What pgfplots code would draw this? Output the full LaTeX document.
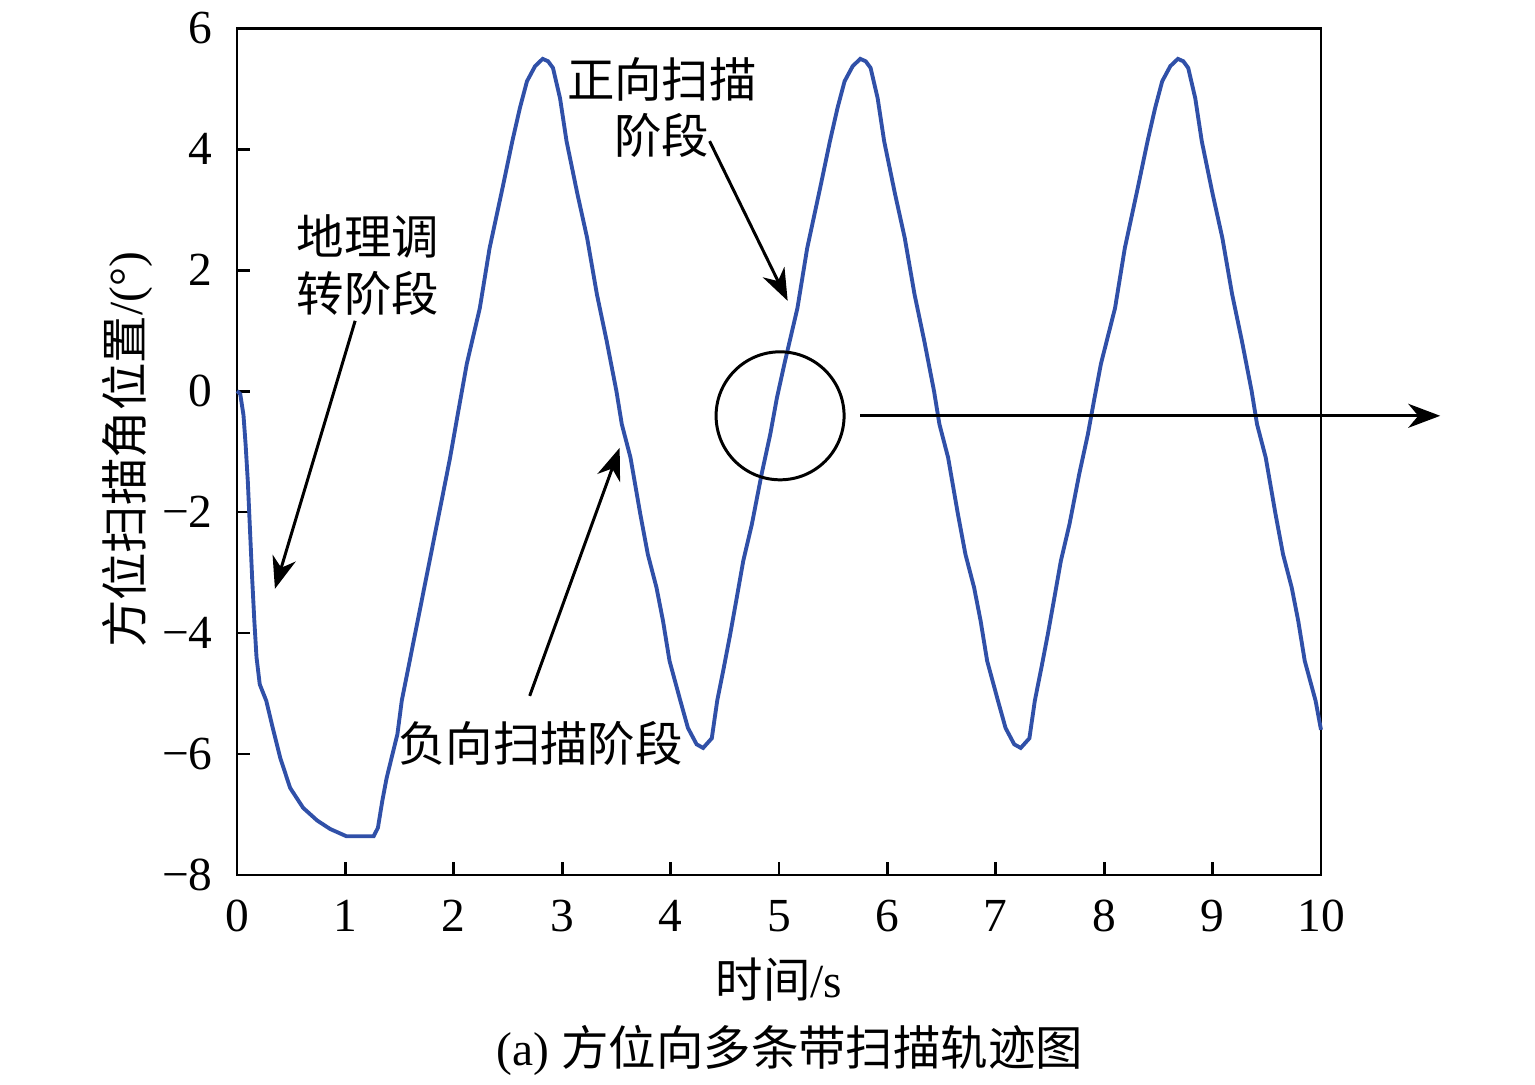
\documentclass[border=0pt]{standalone}
\usepackage{fontspec}
\setmainfont{Liberation Serif}
\newfontfamily\cjk{Noto Sans CJK SC}
\usepackage{pgfplots}
\pgfplotsset{compat=1.18}
\usetikzlibrary{arrows.meta}

\definecolor{trace}{RGB}{48,80,168}
\newcommand{\fs}{\fontsize{13.5}{16}\selectfont}

\begin{document}
\begin{tikzpicture}
\useasboundingbox (-2.37,-2.10) rectangle (12.98,8.75);
\begin{axis}[
  at={(0,0)}, anchor=south west,
  scale only axis,
  width=10.84cm, height=8.47cm,
  xmin=0, xmax=10, ymin=-8, ymax=6,
  xtick={0,1,...,10},
  ytick={-8,-6,-4,-2,0,2,4,6},
  yticklabels={−8,−6,−4,−2,0,2,4,6},
  tick align=inside,
  xtick pos=bottom, ytick pos=left,
  major tick length=1.3mm,
  tick style={line width=0.85pt, black},
  axis line style={line width=0.85pt, black},
  ticklabel style={font=\fs},
  /pgf/number format/assume math mode=true,
  xticklabel style={yshift=-1.3mm},
  yticklabel style={xshift=-1.2mm},
  clip=false,
]
\addplot[trace, line width=1.1pt] coordinates {
(0,0) (0.03,-0.05) (0.06,-0.4) (0.08,-0.9) (0.10,-1.5) (0.12,-2.3) (0.14,-3.1)
(0.16,-3.8) (0.18,-4.4) (0.21,-4.85) (0.27,-5.12) (0.33,-5.57) (0.40,-6.07)
(0.49,-6.56) (0.61,-6.89) (0.74,-7.10) (0.86,-7.24) (1.01,-7.36) (1.26,-7.36)
(1.30,-7.22) (1.34,-6.78) (1.38,-6.40) (1.48,-5.67) (1.52,-5.12) (1.60,-4.40)
(1.70,-3.50) (1.80,-2.60) (1.90,-1.70) (1.965,-1.11) (2.04,-0.35) (2.12,0.45)
(2.24,1.37) (2.33,2.36) (2.45,3.36) (2.54,4.13) (2.61,4.68) (2.675,5.12)
(2.75,5.37) (2.82,5.49) (2.87,5.45) (2.915,5.34) (2.98,4.84) (3.04,4.13)
(3.14,3.26) (3.23,2.53) (3.32,1.60) (3.41,0.83) (3.50,0) (3.55,-0.55)
(3.63,-1.10) (3.72,-2.03) (3.79,-2.70) (3.87,-3.25) (3.93,-3.80) (3.99,-4.46)
(4.09,-5.12) (4.16,-5.57) (4.24,-5.84) (4.30,-5.90) (4.38,-5.74) (4.43,-5.12)
(4.49,-4.58) (4.55,-4.02) (4.61,-3.42) (4.67,-2.81) (4.75,-2.20) (4.84,-1.37)
(4.92,-0.71) (4.98,-0.12) (5.05,0.45) (5.17,1.37) (5.26,2.36) (5.38,3.36)
(5.47,4.13) (5.54,4.68) (5.605,5.12) (5.68,5.37) (5.75,5.49) (5.80,5.45)
(5.845,5.34) (5.91,4.84) (5.97,4.13) (6.07,3.26) (6.16,2.53) (6.25,1.60)
(6.34,0.83) (6.43,0) (6.48,-0.55) (6.56,-1.10) (6.65,-2.03) (6.72,-2.70)
(6.80,-3.25) (6.86,-3.80) (6.92,-4.46) (7.02,-5.12) (7.09,-5.57) (7.17,-5.84)
(7.23,-5.90) (7.31,-5.74) (7.36,-5.12) (7.42,-4.58) (7.48,-4.02) (7.54,-3.42)
(7.60,-2.81) (7.68,-2.20) (7.77,-1.37) (7.85,-0.71) (7.91,-0.12) (7.97,0.45)
(8.10,1.37) (8.19,2.36) (8.31,3.36) (8.40,4.13) (8.47,4.68) (8.535,5.12)
(8.61,5.37) (8.68,5.49) (8.73,5.45) (8.775,5.34) (8.84,4.84) (8.90,4.13)
(9.00,3.26) (9.09,2.53) (9.18,1.60) (9.27,0.83) (9.36,0) (9.41,-0.55)
(9.49,-1.10) (9.58,-2.03) (9.65,-2.70) (9.73,-3.25) (9.79,-3.80) (9.85,-4.46)
(9.95,-5.12) (10,-5.60)
};

% annotations
\begin{scope}[line width=0.85pt, -{Stealth[length=3.2mm, width=2.4mm, inset=1mm]}]
\draw (axis cs:1.09,1.16) -- (axis cs:0.35,-3.27);
\draw (axis cs:2.70,-5.04) -- (axis cs:3.53,-0.94);
\draw (axis cs:4.36,4.13) -- (axis cs:5.08,1.49);
\draw (axis cs:5.75,-0.41) -- (axis cs:11.1,-0.41);
\end{scope}
\draw[line width=0.85pt] (axis cs:5.01,-0.41) circle[radius=6.4mm];

\node[font=\fs\cjk, align=center, inner sep=0pt] at (axis cs:1.21,2.08)
  {地理调\\转阶段};
\node[font=\fs\cjk, align=center, inner sep=0pt] at (axis cs:3.92,4.69)
  {正向扫描\\阶段};
\node[font=\fs\cjk, inner sep=0pt] at (axis cs:2.80,-5.82) {负向扫描阶段};
\end{axis}

\node[font=\fs, inner sep=0pt] at (5.42,-1.05) {{\cjk 时间}/s};
\node[font=\fs, inner sep=0pt] at (5.53,-1.75) {(a) {\cjk 方位向多条带扫描轨迹图}};
\node[font=\fs, inner sep=0pt, rotate=90] at (-1.10,4.25) {{\cjk 方位扫描角位置}/(°)};
\end{tikzpicture}
\end{document}
